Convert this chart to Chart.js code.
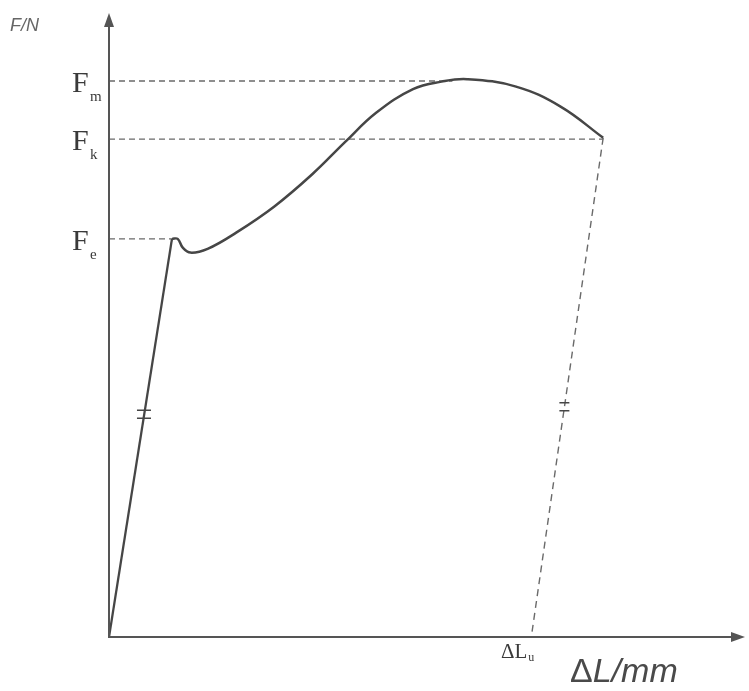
<!DOCTYPE html>
<html>
<head>
<meta charset="utf-8">
<script src="https://cdn.jsdelivr.net/npm/chart.js@4/dist/chart.umd.min.js"></script>
<style>
  html, body { margin: 0; padding: 0; background: #fff; }
  #wrap { position: relative; width: 749px; height: 691px; }
</style>
</head>
<body>
<div id="wrap"><canvas id="chart"></canvas></div>
<script>
/* ============================================================
   Force / elongation diagram (tensile test)
   ============================================================ */

// elastic part: origin -> upper yield point
const elasticX = [0, 9.9];
const elasticY = [0, 63.8];

// plastic part: yield point -> fracture
const plasticX = [9.9, 10.8, 11.6, 12.8, 15.5, 20.0, 26.0, 32.0, 37.1, 42.0, 47.8, 52.3, 56.3, 64.0, 71.0, 77.7];
const plasticY = [63.8, 63.8, 62.4, 61.6, 62.2, 64.8, 69.0, 74.2, 79.3, 84.0, 87.8, 89.0, 89.4, 88.2, 85.0, 80.0];

// characteristic forces (y) and where their dashed guide ends (x)
const forceNames = ['F', 'F', 'F'];
const forceSubs = ['m', 'k', 'e'];
const forceValues = [89.1, 79.8, 63.8];
const forceGuideEnd = [54.0, 77.7, 9.9];

// elastic unloading after fracture
const unloadX = [77.7, 66.4];
const unloadY = [80.0, 0];
const lengthLabel = 'ΔL';
const lengthSub = 'u';

// "=" marks on the two parallel lines
const markX = [5.5, 71.6];
const markY = [35.7, 36.9];

const axisColor = '#555';
const curveColor = '#464646';
const dashColor = '#6a6a6a';

function pts(xs, ys) {
  return xs.map((x, i) => ({ x, y: ys[i] }));
}

const datasets = [
  {
    data: pts(elasticX, elasticY),
    borderColor: curveColor,
    borderWidth: 2.3,
    pointRadius: 0,
    tension: 0
  },
  {
    data: pts(plasticX, plasticY),
    borderColor: curveColor,
    borderWidth: 2.5,
    pointRadius: 0,
    tension: 0.4
  },
  {
    data: pts(unloadX, unloadY),
    borderColor: dashColor,
    borderWidth: 1.4,
    borderDash: [7, 5],
    pointRadius: 0
  }
];

forceValues.forEach((v, i) => {
  datasets.push({
    data: [{ x: 0, y: v }, { x: forceGuideEnd[i], y: v }],
    borderColor: dashColor,
    borderWidth: 1.3,
    borderDash: [6, 4],
    pointRadius: 0
  });
});

// axes with arrows, labels and break marks
const decorPlugin = {
  id: 'decor',
  afterDatasetsDraw(chart) {
    const { ctx, chartArea: a, scales: { x, y } } = chart;
    ctx.save();

    // axes
    ctx.strokeStyle = axisColor;
    ctx.fillStyle = axisColor;
    ctx.lineWidth = 2;
    ctx.beginPath();
    ctx.moveTo(a.left, a.top + 10);
    ctx.lineTo(a.left, a.bottom);
    ctx.lineTo(a.right - 10, a.bottom);
    ctx.stroke();
    // arrow heads
    ctx.beginPath();
    ctx.moveTo(a.left, a.top);
    ctx.lineTo(a.left - 5, a.top + 14);
    ctx.lineTo(a.left + 5, a.top + 14);
    ctx.closePath();
    ctx.fill();
    ctx.beginPath();
    ctx.moveTo(a.right, a.bottom);
    ctx.lineTo(a.right - 14, a.bottom - 5);
    ctx.lineTo(a.right - 14, a.bottom + 5);
    ctx.closePath();
    ctx.fill();

    // "=" marks
    ctx.strokeStyle = curveColor;
    ctx.lineWidth = 1.5;
    markX.forEach((mx, i) => {
      const px = x.getPixelForValue(mx);
      const py = y.getPixelForValue(markY[i]);
      const w = i === 0 ? 7 : 5;
      ctx.beginPath();
      ctx.moveTo(px - w, py - 4); ctx.lineTo(px + w, py - 4);
      ctx.moveTo(px - w, py + 4); ctx.lineTo(px + w, py + 4);
      ctx.stroke();
    });

    // force labels
    ctx.fillStyle = '#3a3a3a';
    ctx.textBaseline = 'alphabetic';
    forceValues.forEach((v, i) => {
      const py = y.getPixelForValue(v) + 11;
      ctx.font = '30px "Liberation Serif", "DejaVu Serif", serif';
      ctx.textAlign = 'left';
      ctx.fillText(forceNames[i], 72, py);
      ctx.font = '15px "Liberation Serif", "DejaVu Serif", serif';
      ctx.fillText(forceSubs[i], 90, py + 9);
    });

    // ΔLu label
    const lx = x.getPixelForValue(unloadX[1]);
    ctx.font = '21px "Liberation Serif", "DejaVu Serif", serif';
    ctx.textAlign = 'right';
    ctx.fillText(lengthLabel, lx - 4, a.bottom + 21);
    ctx.font = '12px "Liberation Serif", "DejaVu Serif", serif';
    ctx.textAlign = 'left';
    ctx.fillText(lengthSub, lx - 3, a.bottom + 24);

    // axis titles
    ctx.fillStyle = '#666';
    ctx.font = 'italic 18px "Liberation Sans", Arial, sans-serif';
    ctx.textAlign = 'left';
    ctx.fillText('F/N', 10, 31);
    ctx.fillStyle = '#4a4a4a';
    ctx.font = '34px "Liberation Sans", Arial, sans-serif';
    ctx.fillText('Δ', 570, 682);
    const dw = ctx.measureText('Δ').width;
    ctx.font = 'italic 34px "Liberation Sans", Arial, sans-serif';
    ctx.fillText('L/mm', 570 + dw, 682);

    ctx.restore();
  }
};

new Chart(document.getElementById('chart'), {
  type: 'line',
  data: { datasets },
  options: {
    responsive: true,
    maintainAspectRatio: false,
    animation: false,
    devicePixelRatio: 1,
    layout: { padding: { left: 109, right: 4, top: 13, bottom: 54 } },
    plugins: { legend: { display: false }, tooltip: { enabled: false } },
    scales: {
      x: { type: 'linear', min: 0, max: 100, display: false },
      y: { type: 'linear', min: 0, max: 100, display: false }
    }
  },
  plugins: [decorPlugin]
});
</script>
</body>
</html>
